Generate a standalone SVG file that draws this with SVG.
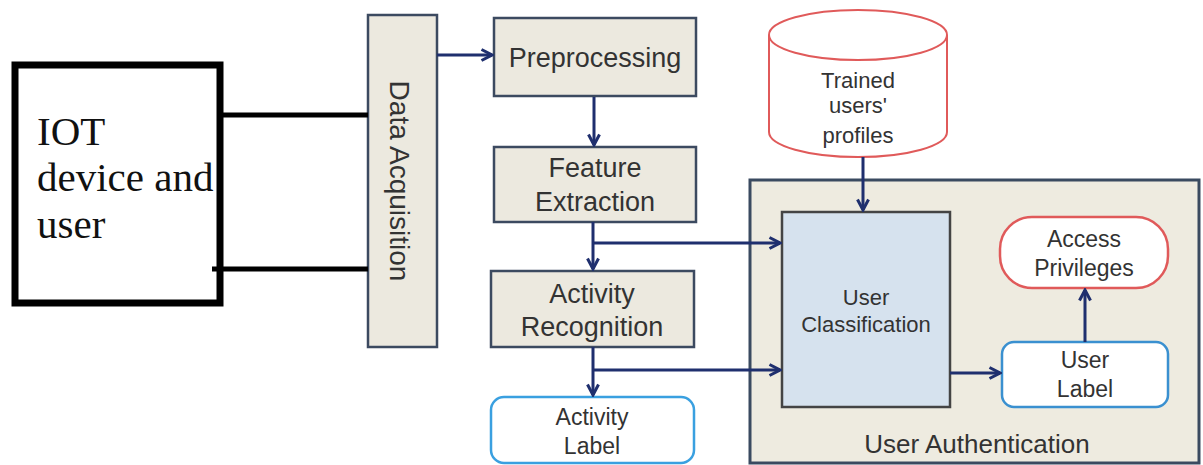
<svg xmlns="http://www.w3.org/2000/svg" width="1203" height="465" viewBox="0 0 1203 465">
  <defs>
    <marker id="arrow" viewBox="0 0 14 14" refX="12" refY="7" markerWidth="14" markerHeight="14" markerUnits="userSpaceOnUse" orient="auto">
      <path d="M1.5,1.5 L12,7 L1.5,12.5" fill="none" stroke="#1f2f6e" stroke-width="3" stroke-linejoin="miter"/>
    </marker>
    <style>
      .t { font-family: "Liberation Sans", Arial, sans-serif; fill: #333; text-anchor: middle; }
      .step { fill: #ece9df; stroke: #3c4a60; stroke-width: 2.5; }
      .flow { fill: none; stroke: #1f2f6e; stroke-width: 3; marker-end: url(#arrow); }
      .wire { fill: none; stroke: #000; stroke-width: 5; }
    </style>
  </defs>
  <rect width="1203" height="465" fill="#fff"/>

  <!-- User authentication container -->
  <g id="user-authentication">
    <rect x="750" y="180" width="449" height="283" fill="#eeebe0" stroke="#3a4a60" stroke-width="3"/>
    <text class="t" x="977" y="453" font-size="26">User Authentication</text>
  </g>

  <!-- IOT device and user -->
  <g id="iot-device">
    <rect x="15" y="65" width="205" height="238" fill="#fff" stroke="#000" stroke-width="7"/>
    <text x="37" y="145" font-family="'Liberation Serif', 'Times New Roman', serif" font-size="41" fill="#111">IOT</text>
    <text x="37" y="191" font-family="'Liberation Serif', 'Times New Roman', serif" font-size="41" fill="#111">device and</text>
    <text x="37" y="238" font-family="'Liberation Serif', 'Times New Roman', serif" font-size="41" fill="#111">user</text>
  </g>

  <!-- Data acquisition -->
  <g id="data-acquisition">
    <rect class="step" x="368" y="15" width="69" height="332" stroke="#5a6a80" stroke-width="2"/>
    <text class="t" transform="translate(390,181) rotate(90)" font-size="28">Data Acquisition</text>
  </g>

  <g id="preprocessing">
    <rect class="step" x="494" y="18" width="202" height="78"/>
    <text class="t" x="595" y="67" font-size="27">Preprocessing</text>
  </g>

  <g id="feature-extraction">
    <rect class="step" x="494" y="147" width="202" height="75"/>
    <text class="t" x="595" y="177" font-size="27">Feature</text>
    <text class="t" x="595" y="211" font-size="27">Extraction</text>
  </g>

  <g id="activity-recognition">
    <rect class="step" x="491" y="271" width="203" height="76"/>
    <text class="t" x="592" y="303" font-size="27">Activity</text>
    <text class="t" x="592" y="336" font-size="27">Recognition</text>
  </g>

  <g id="activity-label">
    <rect x="491" y="397" width="203" height="66" rx="13" fill="#fff" stroke="#3aa0e0" stroke-width="2.5"/>
    <text class="t" x="592" y="425" font-size="23">Activity</text>
    <text class="t" x="592" y="454" font-size="23">Label</text>
  </g>

  <g id="trained-profiles">
    <path d="M769,35 A89,25 0 0 1 947,35 V132 A89,25 0 0 1 769,132 Z" fill="#fff" stroke="#e05a5a" stroke-width="2"/>
    <path d="M769,35 A89,25 0 0 0 947,35" fill="none" stroke="#e05a5a" stroke-width="2"/>
    <text class="t" x="858" y="88" font-size="22" fill="#444">Trained</text>
    <text class="t" x="858" y="113" font-size="22" fill="#444">users'</text>
    <text class="t" x="858" y="143" font-size="22" fill="#444">profiles</text>
  </g>

  <g id="user-classification">
    <rect x="782" y="212" width="168" height="195" fill="#d6e2ee" stroke="#444" stroke-width="2.5"/>
    <text class="t" x="866" y="305" font-size="22">User</text>
    <text class="t" x="866" y="332" font-size="22">Classification</text>
  </g>

  <g id="access-privileges">
    <rect x="1000" y="217" width="168" height="71" rx="32" fill="#fff" stroke="#e05a5a" stroke-width="2.5"/>
    <text class="t" x="1084" y="247" font-size="23" fill="#2b4a80">Access</text>
    <text class="t" x="1084" y="276" font-size="23" fill="#2b4a80">Privileges</text>
  </g>

  <g id="user-label">
    <rect x="1002" y="342" width="166" height="65" rx="12" fill="#fff" stroke="#3a90d0" stroke-width="2.5"/>
    <text class="t" x="1085" y="368" font-size="23">User</text>
    <text class="t" x="1085" y="397" font-size="23">Label</text>
  </g>

  <!-- Connectors -->
  <g id="connectors">
    <path class="wire" d="M220,115 H368"/>
    <path class="wire" d="M212,269 H368"/>
    <path class="flow" d="M437,55 H492"/>
    <path class="flow" d="M594,97 V145"/>
    <path class="flow" d="M593,222 V269"/>
    <path class="flow" d="M593,243 H780"/>
    <path class="flow" d="M593,347 V395"/>
    <path class="flow" d="M593,370 H780"/>
    <path class="flow" d="M863,157 V210"/>
    <path class="flow" d="M950,373 H1000"/>
    <path class="flow" d="M1085,342 V290"/>
  </g>
</svg>
